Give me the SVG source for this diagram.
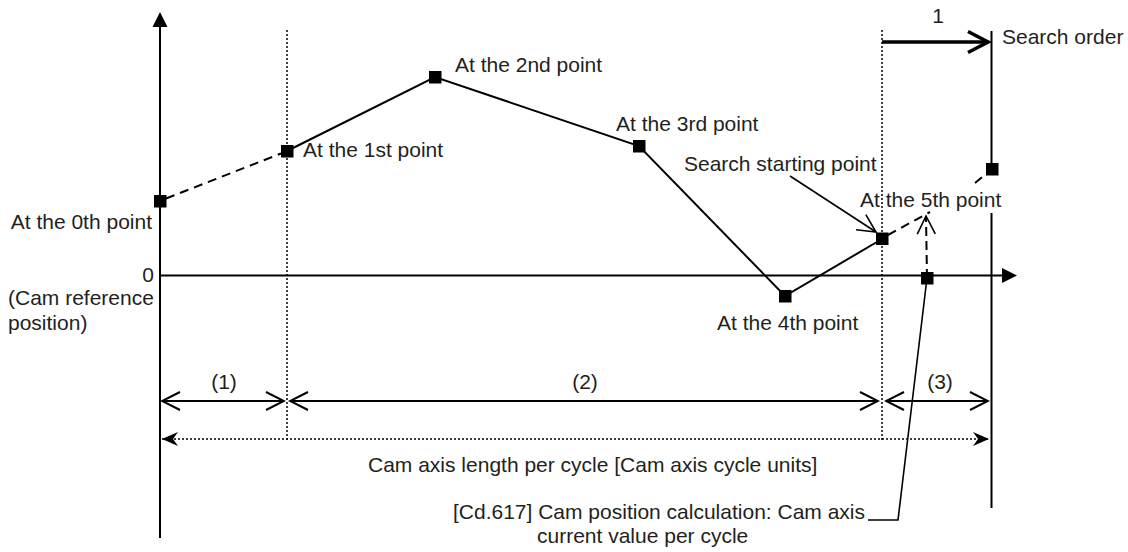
<svg xmlns="http://www.w3.org/2000/svg" width="1128" height="552" viewBox="0 0 1128 552">
<style>
text{font-family:"Liberation Sans",Arial,sans-serif;font-size:21px;fill:#231f20}
.ln{stroke:#000;stroke-width:2;fill:none}
.thin{stroke:#000;stroke-width:1.6;fill:none}
.dash{stroke:#000;stroke-width:2;fill:none;stroke-dasharray:9 6}
.dot{stroke:#000;stroke-width:1.5;fill:none;stroke-dasharray:2 2}
.pt{fill:#000}
</style>
<defs>
<marker id="tri" markerUnits="userSpaceOnUse" markerWidth="20" markerHeight="20" viewBox="-1 -10 20 20" refX="0" refY="0" orient="auto"><path d="M0,-7.5 L15,0 L0,7.5 Z" fill="#000"/></marker>
<marker id="chev" markerUnits="userSpaceOnUse" markerWidth="24" markerHeight="24" viewBox="-22 -12 24 24" refX="0" refY="0" orient="auto-start-reverse"><path d="M-18,-9 L0,0 L-18,9" fill="none" stroke="#000" stroke-width="2"/></marker>
<marker id="chevS" markerUnits="userSpaceOnUse" markerWidth="24" markerHeight="24" viewBox="-22 -12 24 24" refX="0" refY="0" orient="auto"><path d="M-18,-9 L0,0 L-18,9" fill="none" stroke="#000" stroke-width="1.6"/></marker>
<marker id="chevB" markerUnits="userSpaceOnUse" markerWidth="28" markerHeight="28" viewBox="-25 -14 28 28" refX="0" refY="0" orient="auto"><path d="M-20,-10.5 L0,0 L-20,10.5" fill="none" stroke="#000" stroke-width="3.5"/></marker>
<marker id="stealth" markerUnits="userSpaceOnUse" markerWidth="20" markerHeight="20" viewBox="-18 -10 20 20" refX="0" refY="0" orient="auto-start-reverse"><path d="M0,0 L-16,-7 L-11,0 L-16,7 Z" fill="#000"/></marker>
</defs>

<g id="axes">
<path class="ln" d="M160,538 V27" marker-end="url(#tri)"/>
<path class="ln" d="M160,275.5 H1002" marker-end="url(#tri)"/>
<path class="ln" d="M991.5,31 V169 M991.5,213 V508"/>
<path class="dot" d="M287,30 V440 M882,30 V440"/>
</g>

<g id="connectors">
<path class="dash" d="M166,198.5 L281,153.5"/>
<path class="ln" d="M287,151 L435,77 L639,146 L785,296 L882,239"/>
<path class="dash" d="M888,235 L930,212 M975,183 L992,169"/>
<path class="ln" d="M927,278 L926,216" stroke-dasharray="9 5" marker-end="url(#chevS)"/>
<path class="thin" d="M927,278 L898,520 H868"/>
<path class="thin" d="M790,176 L876,232" marker-end="url(#chevS)"/>
<path d="M882,42 H988" stroke="#000" stroke-width="3.5" fill="none" marker-end="url(#chevB)"/>
<path class="ln" d="M162,401 H284" marker-start="url(#chev)" marker-end="url(#chev)"/>
<path class="ln" d="M290,401 H878" marker-start="url(#chev)" marker-end="url(#chev)"/>
<path class="ln" d="M886,401 H988" marker-start="url(#chev)" marker-end="url(#chev)"/>
<path class="dot" d="M162,439 H989" marker-start="url(#stealth)" marker-end="url(#stealth)"/>
</g>

<g id="p0"><rect class="pt" x="154" y="195" width="12.5" height="12.5"/><text x="152" y="229" text-anchor="end">At the 0th point</text></g>
<g id="p1"><rect class="pt" x="281" y="145" width="12.5" height="12.5"/><text x="303" y="157">At the 1st point</text></g>
<g id="p2"><rect class="pt" x="429" y="71" width="12.5" height="12.5"/><text x="455" y="72">At the 2nd point</text></g>
<g id="p3"><rect class="pt" x="633" y="140" width="12.5" height="12.5"/><text x="616" y="131">At the 3rd point</text></g>
<g id="p4"><rect class="pt" x="779" y="290" width="12.5" height="12.5"/><text x="717" y="330">At the 4th point</text></g>
<g id="search-start"><rect class="pt" x="876" y="232.5" width="12.5" height="12.5"/><text x="684" y="171">Search starting point</text></g>
<g id="p5"><rect class="pt" x="986" y="163" width="12.5" height="12.5"/><text x="860" y="207">At the 5th point</text></g>
<g id="current"><rect class="pt" x="921" y="272" width="12.5" height="12.5"/></g>

<g id="labels">
<text x="154" y="282" text-anchor="end">0</text>
<text x="8" y="305">(Cam reference</text>
<text x="8" y="330">position)</text>
<text x="938" y="23" text-anchor="middle">1</text>
<text x="1002" y="44">Search order</text>
<text x="224" y="389" text-anchor="middle">(1)</text>
<text x="585" y="389" text-anchor="middle">(2)</text>
<text x="940" y="389" text-anchor="middle">(3)</text>
<text x="368" y="472">Cam axis length per cycle [Cam axis cycle units]</text>
<text x="865" y="519" text-anchor="end">[Cd.617] Cam position calculation: Cam axis</text>
<text x="537" y="543">current value per cycle</text>
</g>
</svg>
